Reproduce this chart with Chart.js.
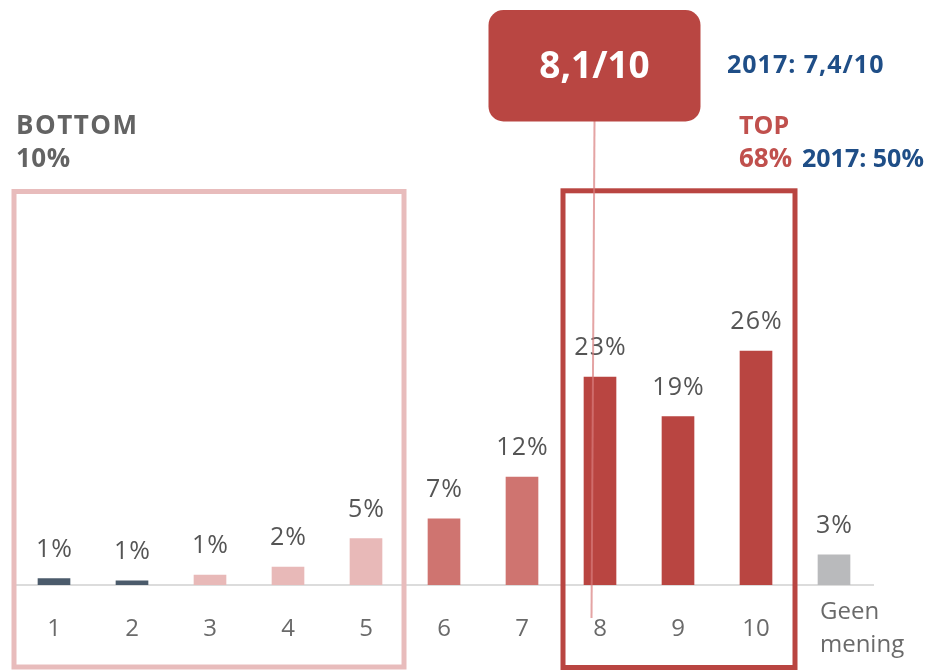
<!DOCTYPE html>
<html><head><meta charset="utf-8">
<script src="https://cdn.jsdelivr.net/npm/chart.js@4"></script>
<style>html,body{margin:0;padding:0;background:#fff;}canvas{display:block;}</style>
</head><body>
<canvas id="c" width="926" height="670" style="width:926px;height:670px"></canvas>
<script>
// ---- data ----
const categories = ['1', '2', '3', '4', '5', '6', '7', '8', '9', '10', ['     Geen', '         mening']];
const shares = [0.7, 0.45, 1.1, 2.0, 5.15, 7.35, 12.0, 23.1, 18.7, 26.0, 3.35];
const shareLabels = ['1%', '1%', '1%', '2%', '5%', '7%', '12%', '23%', '19%', '26%', '3%'];
const barColors = ['#4b5b6b', '#4b5b6b', '#e8b9b8', '#e8b9b8', '#e8b9b8', '#cf7470', '#cf7470', '#b94541', '#b94541', '#b94541', '#b9babc'];
const scoreText = '8,1/10';
const score2017Text = '2017: 7,4/10';
const bottomLines = ['BOTTOM', '10%'];
const topLines = ['TOP', '68%'];
const top2017Text = '2017: 50%';

const FONT = "'Open Sans', sans-serif";

const annot = {
  id: 'annot',
  beforeDatasetsDraw(chart) {
    const ctx = chart.ctx, x = chart.scales.x;
    const cw = x.getPixelForValue(1) - x.getPixelForValue(0);
    ctx.save();
    ctx.lineWidth = 5;
    ctx.strokeStyle = '#e8bcbc';
    const bl = x.getPixelForValue(0) - cw / 2 - 1, br = x.getPixelForValue(4) + cw / 2 - 1;
    ctx.strokeRect(bl, 191.5, br - bl, 667 - 191.5);
    ctx.strokeStyle = '#b94541';
    const tl = x.getPixelForValue(7) - cw / 2 + 2, tr = x.getPixelForValue(9) + cw / 2;
    ctx.strokeRect(tl, 190.8, tr - tl, 667.5 - 190.8);
    ctx.restore();
  },
  afterDatasetsDraw(chart) {
    const ctx = chart.ctx;
    const meta = chart.getDatasetMeta(0);
    ctx.save();
    // value labels
    ctx.font = '25px ' + FONT;
    ctx.fillStyle = '#555555';
    ctx.textAlign = 'center';
    ctx.textBaseline = 'alphabetic';
    ctx.letterSpacing = '1px';
    meta.data.forEach((bar, i) => {
      ctx.fillText(shareLabels[i], bar.x + 0.5, bar.y - 22);
    });
    ctx.letterSpacing = '0px';
    // connector line
    const b8 = meta.data[7];
    ctx.strokeStyle = 'rgba(216,126,126,0.7)';
    ctx.lineWidth = 2;
    ctx.beginPath();
    ctx.moveTo(b8.x - 5.5, 121);
    ctx.lineTo(b8.x - 8.5, 618);
    ctx.stroke();
    // score box
    ctx.fillStyle = '#b94642';
    ctx.beginPath();
    ctx.roundRect(488.5, 10, 212, 111.5, 15);
    ctx.fill();
    ctx.fillStyle = '#ffffff';
    ctx.font = 'bold 37px ' + FONT;
    ctx.textAlign = 'center';
    ctx.fillText(scoreText, 594.5, 78);
    // texts
    ctx.textAlign = 'left';
    ctx.font = 'bold 25px ' + FONT;
    ctx.fillStyle = '#1f4e87';
    ctx.letterSpacing = '1px';
    ctx.fillText(score2017Text, 727, 73);
    ctx.letterSpacing = '0px';
    ctx.fillText(top2017Text, 802, 166.5);
    ctx.fillStyle = '#c0504d';
    ctx.fillText(topLines[0], 739, 133.5);
    ctx.font = 'bold 26px ' + FONT;
    ctx.fillText(topLines[1], 739, 166.5);
    ctx.fillStyle = '#636363';
    ctx.letterSpacing = '1.5px';
    ctx.fillText(bottomLines[0], 16, 134.3);
    ctx.letterSpacing = '0.5px';
    ctx.fillText(bottomLines[1], 16, 166.7);
    ctx.restore();
  }
};

new Chart(document.getElementById('c'), {
  type: 'bar',
  data: {
    labels: categories,
    datasets: [{
      data: shares,
      backgroundColor: barColors,
      borderWidth: 0,
      barThickness: 32
    }]
  },
  options: {
    responsive: false,
    devicePixelRatio: 1,
    animation: false,
    events: [],
    layout: { padding: { top: 45, left: 15, right: 53, bottom: 0 } },
    plugins: { legend: { display: false }, tooltip: { enabled: false }, title: { display: false } },
    scales: {
      y: { display: false, min: 0, max: 60 },
      x: {
        grid: { display: false, drawTicks: false },
        border: { display: true, color: '#dcdcdc', width: 2 },
        ticks: {
          color: '#6a6a6a',
          font: { family: FONT, size: 24, lineHeight: 1.4 },
          padding: 27,
          crossAlign: 'center',
          maxRotation: 0,
          autoSkip: false
        },
        afterFit(scale) { scale.height = 85; scale.paddingLeft = 0; scale.paddingRight = 0; }
      }
    }
  },
  plugins: [annot]
});
</script>
</body></html>
